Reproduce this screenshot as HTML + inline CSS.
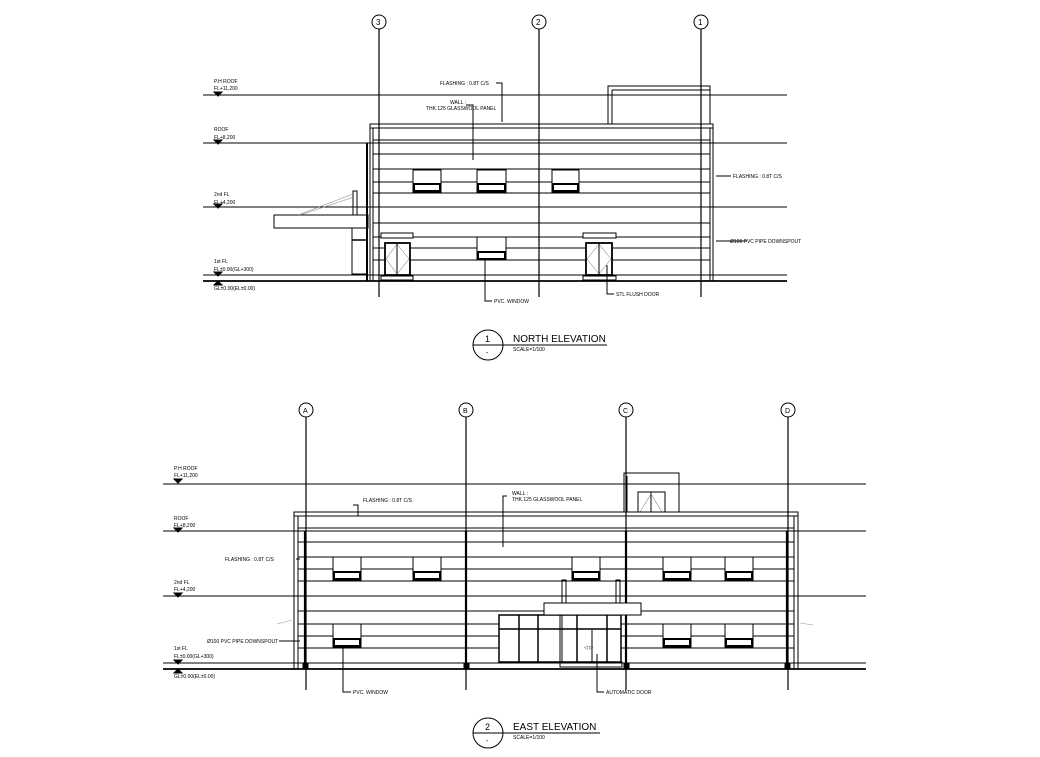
<!DOCTYPE html>
<html><head><meta charset="utf-8"><style>
html,body{margin:0;padding:0;background:#fff;}
svg{display:block;}
text{font-family:"Liberation Sans",sans-serif;font-size:5px;fill:#000;}
.t{font-size:10px;}
</style></head><body>
<svg width="1040" height="757" viewBox="0 0 1040 757" xmlns="http://www.w3.org/2000/svg" stroke="#000" fill="none" stroke-width="1">
<!-- ================= NORTH ELEVATION ================= -->
<g>
<!-- grid bubbles -->
<circle cx="379" cy="22" r="7"/><circle cx="539" cy="22" r="7"/><circle cx="701" cy="22" r="7"/>
<line x1="379" y1="29" x2="379" y2="297" stroke-width="1.2"/>
<line x1="539" y1="29" x2="539" y2="297" stroke-width="1.2"/>
<line x1="701" y1="29" x2="701" y2="297" stroke-width="1.2"/>
<!-- levels -->
<line x1="203" y1="95" x2="787" y2="95"/>
<line x1="203" y1="143" x2="787" y2="143"/>
<line x1="203" y1="207" x2="787" y2="207"/>
<line x1="203" y1="275" x2="787" y2="275"/>
<line x1="203" y1="281" x2="787" y2="281" stroke-width="1.8"/>
<!-- penthouse -->
<rect x="608" y="86" width="102" height="38"/>
<line x1="612" y1="90" x2="710" y2="90"/><line x1="612" y1="90" x2="612" y2="124"/>
<!-- parapet & body -->
<rect x="370" y="124" width="343" height="4"/>
<line x1="370" y1="128" x2="370" y2="281"/><line x1="373" y1="128" x2="373" y2="281"/>
<line x1="710" y1="128" x2="710" y2="281"/><line x1="713" y1="128" x2="713" y2="281"/>
<line x1="367" y1="143" x2="367" y2="281" stroke-width="2"/>
<g>
<line x1="373" y1="140" x2="710" y2="140"/><line x1="373" y1="154" x2="710" y2="154"/>
<line x1="373" y1="169" x2="710" y2="169"/><line x1="373" y1="182" x2="710" y2="182"/>
<line x1="373" y1="193" x2="710" y2="193"/><line x1="373" y1="223" x2="710" y2="223"/>
<line x1="373" y1="237" x2="710" y2="237"/><line x1="373" y1="248" x2="710" y2="248"/>
<line x1="373" y1="260" x2="710" y2="260"/>
</g>
<!-- 2nd floor windows -->
<g fill="#fff">
<rect x="413" y="170" width="28" height="22"/><rect x="477" y="170" width="29" height="22"/><rect x="552" y="170" width="27" height="22"/>
</g>
<g stroke-width="2">
<rect x="414" y="184" width="26" height="7"/><rect x="478" y="184" width="27" height="7"/><rect x="553" y="184" width="25" height="7"/>
<rect x="478" y="252" width="27" height="7"/>
</g>
<rect x="477" y="237" width="29" height="23" fill="#fff"/>
<rect x="478" y="252" width="27" height="7" stroke-width="2"/>
<!-- doors -->
<g fill="#fff">
<rect x="385" y="243" width="25" height="32" stroke-width="1.8"/><rect x="586" y="243" width="26" height="32" stroke-width="1.8"/>
<rect x="381" y="233" width="32" height="5"/><rect x="583" y="233" width="33" height="5"/>
<rect x="381" y="276" width="32" height="4"/><rect x="583" y="276" width="33" height="4"/>
</g>
<g stroke-width="0.5" stroke="#666">
<path d="M397 244 L386 259 L397 274 L409 259 Z"/><path d="M599 244 L587 259 L599 274 L611 259 Z"/>
</g>
<line x1="397" y1="243" x2="397" y2="275"/><line x1="599" y1="243" x2="599" y2="275"/>
<!-- left canopy -->
<rect x="274" y="215" width="94" height="13"/>
<rect x="352" y="228" width="15" height="46"/><line x1="352" y1="240" x2="367" y2="240" stroke-width="1.5"/>
<rect x="353" y="191" width="4" height="24"/>
<line x1="298" y1="215" x2="353" y2="194" stroke="#888" stroke-width="0.6"/>
<line x1="300" y1="215" x2="354" y2="197" stroke="#888" stroke-width="0.6"/>
<!-- leaders -->
<polyline points="496,83 502,83 502,122"/>
<polyline points="466,105 473,105 473,160"/>
<polyline points="731,176 716,176"/>
<polyline points="747,241 716,241"/>
<polyline points="485,260 485,301 492,301"/>
<polyline points="607,265 607,294 614,294"/>
</g>
<g stroke="none">
<text x="214" y="83">P.H ROOF</text><text x="214" y="90">FL+11,200</text>
<text x="214" y="131">ROOF</text><text x="214" y="139">FL+8,200</text>
<text x="214" y="196">2nd FL</text><text x="214" y="204">FL+4,200</text>
<text x="214" y="263">1st FL</text><text x="214" y="271">FL±0.00(GL+300)</text>
<text x="214" y="290">GL±0.00(EL±0.00)</text>
<text x="440" y="85">FLASHING : 0.8T C/S</text>
<text x="450" y="104">WALL :</text><text x="426" y="110">THK.125 GLASSWOOL PANEL</text>
<text x="733" y="178">FLASHING : 0.8T C/S</text>
<text x="730" y="243">Ø100 PVC PIPE DOWNSPOUT</text>
<text x="494" y="303">PVC. WINDOW</text>
<text x="616" y="296">STL FLUSH DOOR</text>
<text x="376" y="25" class="t" style="font-size:8px">3</text><text x="536" y="25" style="font-size:8px">2</text><text x="698" y="25" style="font-size:8px">1</text>
</g>
<g>
<path d="M214 92 l4 4 l4 -4 z" fill="#000"/><path d="M214 140 l4 4 l4 -4 z" fill="#000"/><path d="M214 204 l4 4 l4 -4 z" fill="#000"/><path d="M214 272 l4 4 l4 -4 z" fill="#000"/><path d="M214 285 l4 -4 l4 4 z" fill="#000"/>
</g>
<!-- title 1 -->
<circle cx="488" cy="345" r="15"/><line x1="473" y1="345" x2="607" y2="345"/>
<g stroke="none"><text x="485" y="342" style="font-size:9px">1</text><text x="486" y="355" style="font-size:7px">-</text>
<text x="513" y="342" class="t">NORTH ELEVATION</text><text x="513" y="351">SCALE=1/100</text></g>

<!-- ================= EAST ELEVATION ================= -->
<g>
<circle cx="306" cy="410" r="7"/><circle cx="466" cy="410" r="7"/><circle cx="626" cy="410" r="7"/><circle cx="788" cy="410" r="7"/>
<line x1="306" y1="417" x2="306" y2="690" stroke-width="1.2"/>
<line x1="466" y1="417" x2="466" y2="690" stroke-width="1.2"/>
<line x1="626" y1="417" x2="626" y2="690" stroke-width="1.2"/>
<line x1="788" y1="417" x2="788" y2="690" stroke-width="1.2"/>
<line x1="163" y1="484" x2="866" y2="484"/>
<line x1="163" y1="531" x2="866" y2="531"/>
<line x1="163" y1="596" x2="866" y2="596"/>
<line x1="163" y1="663" x2="866" y2="663"/>
<line x1="163" y1="669" x2="866" y2="669" stroke-width="1.8"/>
<!-- penthouse -->
<rect x="624" y="473" width="55" height="39"/>
<line x1="627" y1="476" x2="627" y2="512"/>
<rect x="638" y="492" width="27" height="20"/><line x1="651" y1="492" x2="651" y2="512"/>
<path d="M640 512 L651 494 L662 512" stroke="#666" stroke-width="0.5"/>
<!-- parapet & body -->
<rect x="294" y="512" width="504" height="4"/>
<line x1="294" y1="516" x2="294" y2="669"/><line x1="298" y1="516" x2="298" y2="669"/>
<line x1="794" y1="516" x2="794" y2="669"/><line x1="798" y1="516" x2="798" y2="669"/>
<line x1="305" y1="531" x2="305" y2="667" stroke-width="2.2"/>
<line x1="466" y1="531" x2="466" y2="667" stroke-width="2.2"/>
<line x1="626" y1="531" x2="626" y2="667" stroke-width="2.2"/>
<line x1="787" y1="531" x2="787" y2="667" stroke-width="2.2"/>
<g>
<line x1="298" y1="528" x2="794" y2="528"/><line x1="298" y1="542" x2="794" y2="542"/>
<line x1="298" y1="557" x2="794" y2="557"/><line x1="298" y1="569" x2="794" y2="569"/>
<line x1="298" y1="581" x2="794" y2="581"/><line x1="298" y1="611" x2="794" y2="611"/>
<line x1="298" y1="624" x2="794" y2="624"/><line x1="298" y1="636" x2="794" y2="636"/>
<line x1="298" y1="648" x2="794" y2="648"/>
</g>
<g fill="#fff">
<rect x="333" y="557" width="28" height="23"/><rect x="413" y="557" width="28" height="23"/><rect x="572" y="557" width="28" height="23"/><rect x="663" y="557" width="28" height="23"/><rect x="725" y="557" width="28" height="23"/>
<rect x="333" y="624" width="28" height="23"/><rect x="663" y="624" width="28" height="23"/><rect x="725" y="624" width="28" height="23"/>
</g>
<g stroke-width="2">
<rect x="334" y="572" width="26" height="7"/><rect x="414" y="572" width="26" height="7"/><rect x="573" y="572" width="26" height="7"/><rect x="664" y="572" width="26" height="7"/><rect x="726" y="572" width="26" height="7"/>
<rect x="334" y="639" width="26" height="7"/><rect x="664" y="639" width="26" height="7"/><rect x="726" y="639" width="26" height="7"/>
</g>
<!-- entrance -->
<rect x="499" y="615" width="122" height="47" fill="#fff" stroke-width="1.5"/>
<line x1="499" y1="629" x2="621" y2="629" stroke-width="1.5"/>
<line x1="519" y1="615" x2="519" y2="662" stroke-width="1.5"/>
<line x1="538" y1="615" x2="538" y2="662" stroke-width="1.5"/>
<line x1="560" y1="615" x2="560" y2="662"/><line x1="562" y1="615" x2="562" y2="662"/>
<line x1="577" y1="615" x2="577" y2="662" stroke-width="1.5"/>
<line x1="607" y1="615" x2="607" y2="662" stroke-width="1.5"/>
<line x1="592" y1="630" x2="592" y2="662"/>
<rect x="560" y="662" width="62" height="5"/>
<rect x="544" y="603" width="97" height="12" fill="#fff"/>
<rect x="562" y="580" width="4" height="23"/><rect x="616" y="580" width="4" height="23"/>
<!-- small sunshades -->
<line x1="277" y1="624" x2="292" y2="620" stroke="#999" stroke-width="0.6"/>
<line x1="800" y1="623" x2="813" y2="625" stroke="#999" stroke-width="0.6"/>
<!-- leaders -->
<polyline points="353,505 358,505 358,516"/>
<polyline points="507,496 503,496 503,547"/>
<polyline points="296,559 300,559"/>
<polyline points="279,641 300,641"/>
<polyline points="343,648 343,692 351,692"/>
<polyline points="597,654 597,692 604,692"/>
</g>
<g stroke="none">
<text x="174" y="470">P.H ROOF</text><text x="174" y="477">FL+11,200</text>
<text x="174" y="520">ROOF</text><text x="174" y="527">FL+8,200</text>
<text x="174" y="584">2nd FL</text><text x="174" y="591">FL+4,200</text>
<text x="174" y="650">1st FL</text><text x="174" y="658">FL±0.00(GL+300)</text>
<text x="174" y="678">GL±0.00(EL±0.00)</text>
<text x="363" y="502">FLASHING : 0.8T C/S</text>
<text x="512" y="495">WALL :</text><text x="512" y="501">THK.125 GLASSWOOL PANEL</text>
<text x="225" y="561">FLASHING : 0.8T C/S</text>
<text x="207" y="643">Ø100 PVC PIPE DOWNSPOUT</text>
<text x="353" y="694">PVC. WINDOW</text>
<text x="606" y="694">AUTOMATIC DOOR</text>
<text x="303" y="413" style="font-size:7px">A</text><text x="463" y="413" style="font-size:7px">B</text><text x="623" y="413" style="font-size:7px">C</text><text x="785" y="413" style="font-size:7px">D</text>
<text x="584" y="649" style="font-size:5px">◁ ▷</text>
</g>
<g fill="#000">
<path d="M174 479 l4 4 l4 -4 z"/><path d="M174 528 l4 4 l4 -4 z"/><path d="M174 593 l4 4 l4 -4 z"/><path d="M174 660 l4 4 l4 -4 z"/><path d="M174 673 l4 -4 l4 4 z"/>
<rect x="303" y="664" width="5" height="5"/><rect x="464" y="664" width="5" height="5"/><rect x="624" y="664" width="5" height="5"/><rect x="785" y="664" width="5" height="5"/>
</g>
<!-- title 2 -->
<circle cx="488" cy="733" r="15"/><line x1="473" y1="733" x2="600" y2="733"/>
<g stroke="none"><text x="485" y="730" style="font-size:9px">2</text><text x="486" y="743" style="font-size:7px">-</text>
<text x="513" y="730" class="t">EAST ELEVATION</text><text x="513" y="739">SCALE=1/100</text></g>
</svg>
</body></html>
